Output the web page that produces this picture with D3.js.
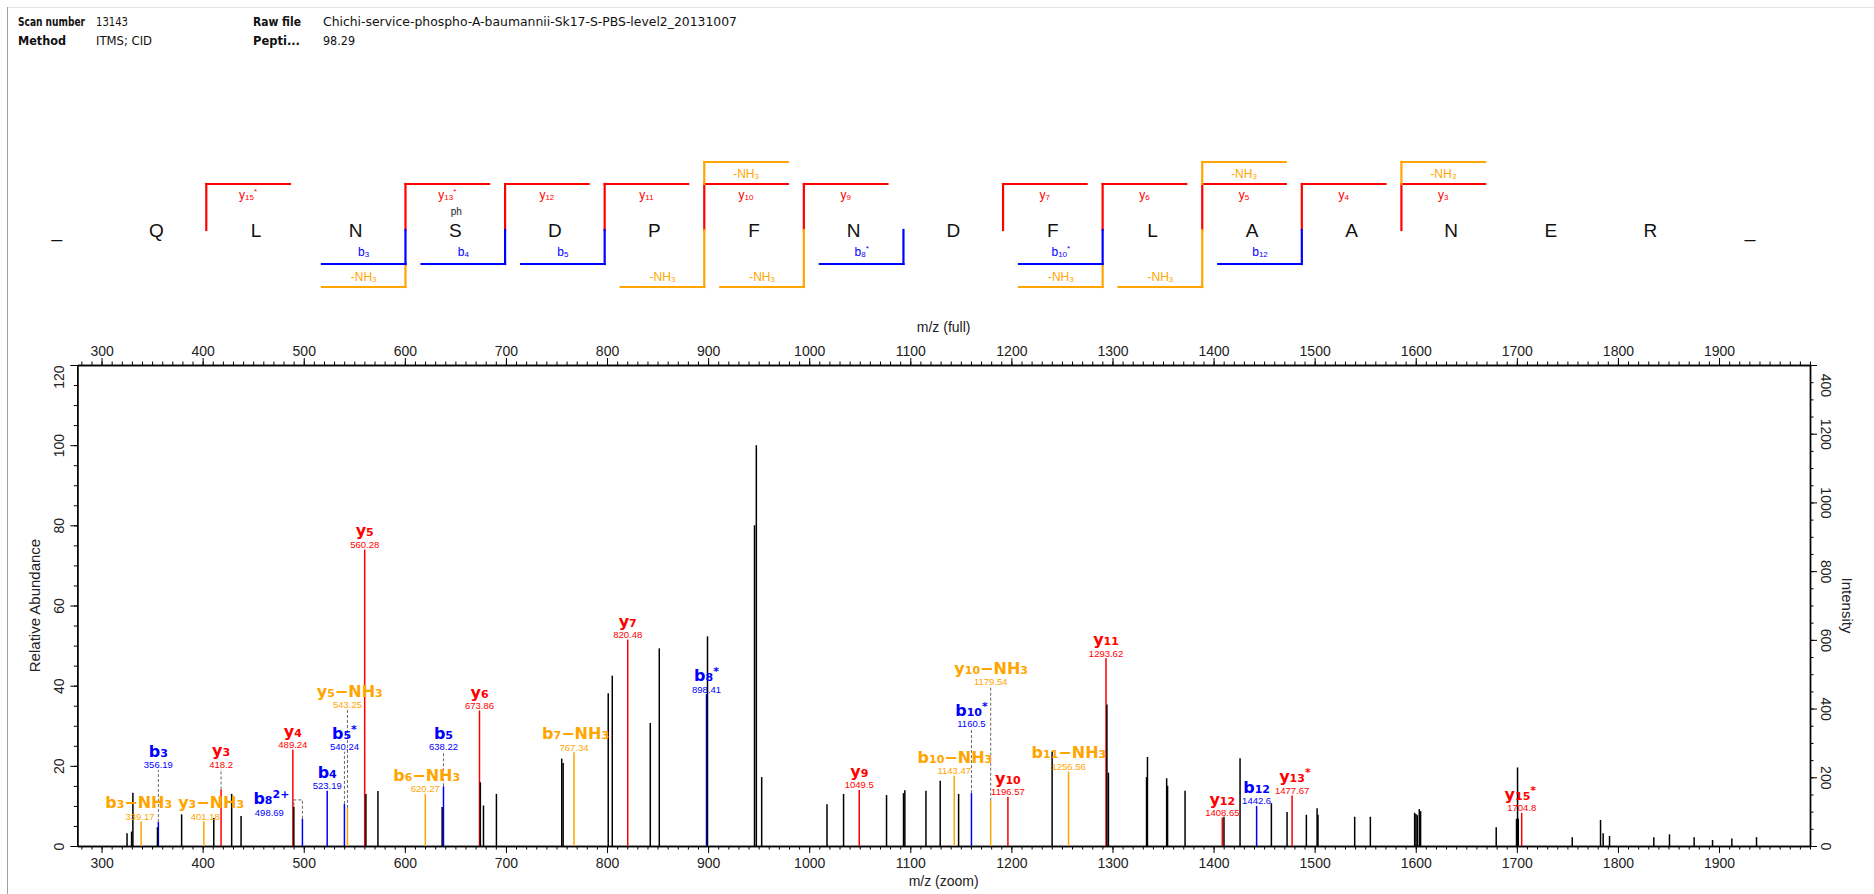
<!DOCTYPE html>
<html><head><meta charset="utf-8">
<script src="https://cdn.jsdelivr.net/npm/d3@7"></script>
<style>
html,body{margin:0;padding:0;background:#fff;}
svg{display:block;}
</style></head><body>
<svg id="c" width="1874" height="894"></svg>
<script>
// ---------------- data ----------------
const headerRow1 = ["Scan number", "13143", "Raw file", "Chichi-service-phospho-A-baumannii-Sk17-S-PBS-level2_20131007"];
const headerRow2 = ["Method", "ITMS; CID", "Pepti...", "98.29"];

const residues = ["_","Q","L","N","S","D","P","F","N","D","F","L","A","A","N","E","R","_"];
const modResidueIndex = 4;
const modLabel = "ph";
const yIonNumbers = [15,13,12,11,10,9,7,6,5,4,3];
const yIonStarred = [15,13];
const yNH3Numbers = [10,5,3];
const bIonNumbers = [3,4,5,8,10,12];
const bIonStarred = [8,10];
const bNH3Numbers = [3,6,7,10,11];

// unannotated (black) peaks: m/z and relative abundance
const peakMz  = [325.2,329.7,331.0,355.3,379.2,411.0,428.7,438.0,490.2,561.5,573.4,636.9,674.7,677.8,690.6,755.2,756.6,801.2,805.2,842.8,851.7,899.4,945.9,947.7,953.0,1017.6,1034.0,1076.5,1093.3,1094.6,1115.5,1129.6,1147.8,1240.3,1294.5,1296.0,1333.7,1334.6,1353.6,1354.5,1371.8,1410.3,1426.2,1457.2,1472.7,1491.8,1502.4,1503.3,1539.6,1555.1,1598.9,1600.2,1601.5,1603.5,1604.8,1679.6,1699.7,1700.7,1701.4,1754.8,1782.8,1785.4,1791.7,1835.5,1851.0,1875.4,1893.6,1912.7,1937.1];
const peakRel = [3.2,3.6,13.3,4.7,7.9,7.0,13.0,7.5,9.8,13.0,13.7,9.7,15.9,10.1,13.0,21.8,20.7,38.1,42.5,30.7,49.3,52.3,80.0,100,17.2,10.4,13.0,12.7,13.2,13.9,13.8,16.3,13.0,23.6,35.3,18.3,17.2,22.2,16.9,15.0,13.8,7.3,21.9,10.7,8.5,7.8,9.4,7.8,7.3,7.3,8.3,8.0,7.7,9.2,8.7,4.7,6.8,19.6,6.8,2.2,6.5,3.2,2.5,2.2,2.9,2.2,1.5,1.9,2.2];

// annotated ions
const ionNames    = ["b3-NH3","b3","y3-NH3","y3","y4","b8^2+","b4","b5*","y5-NH3","y5","b6-NH3","b5","y6","b7-NH3","y7","b8*","y9","b10-NH3","b10*","y10-NH3","y10","b11-NH3","y11","y12","b12","y13*","y15*"];
const ionMz       = [339.17,356.19,401.18,418.2,489.24,498.69,523.19,540.24,543.25,560.28,620.27,638.22,673.86,767.34,820.48,898.41,1049.5,1143.47,1160.5,1179.54,1196.57,1256.56,1293.62,1408.65,1442.6,1477.67,1704.8];
const ionRel      = [6.2,6.0,6.2,14.1,24.0,6.8,13.8,10.5,9.5,74.0,13.0,14.9,33.8,23.4,51.5,37.9,14.0,17.5,13.2,11.3,12.3,18.6,46.9,7.1,10.0,12.6,8.3];
const ionLabelRel = [6.2,19.0,6.2,19.2,24.0,7.2,13.8,23.5,34.0,74.0,13.0,23.5,33.8,23.4,51.5,37.9,14.0,17.5,29.3,39.7,12.3,18.6,46.9,7.1,10.0,12.6,8.3];
const ionNameMz   = [336.7,356.19,408.4,418.2,489.24,468.0,523.19,540.24,545.5,560.28,621.6,638.22,673.86,768.9,820.48,898.41,1049.5,1144.1,1160.5,1180.0,1196.57,1256.9,1293.62,1408.65,1442.6,1480.5,1703.5];
const ionValueMz  = [338.0,356.19,402.6,418.2,489.24,466.0,523.19,540.24,543.25,560.28,620.27,638.22,673.86,767.34,820.48,898.41,1049.5,1143.47,1160.5,1179.54,1196.57,1256.56,1293.62,1408.65,1442.6,1477.67,1704.8];
// bent dashed connector for the b8 2+ label (m/z, rel)
const b82Connector = [[498.69,6.8],[498.69,11.5],[490.2,11.5],[490.2,9.8]];

const mzDomain = [276, 1990];
const mzMajorTicks = d3.range(300, 2000, 100);
const mzMinorTicks = d3.range(280, 1991, 10);
const relDomain = [0, 120];
const relMajorTicks = d3.range(0, 121, 20);
const relMinorTicks = d3.range(0, 121, 5);
const intDomain = [0, 1400];
const intMajorTicks = d3.range(0, 1401, 200);
const intMinorTicks = d3.range(0, 1401, 50);

// ---------------- drawing ----------------
const RED = "#ff0000", BLUE = "#0000ff", ORANGE = "#ffa500";
const colorOf = n => n.includes("NH3") ? ORANGE : (n[0] === "y" ? RED : BLUE);
const svg = d3.select("#c");
const SANS = "'Liberation Sans', Arial, sans-serif";
const HEAD = "'DejaVu Sans', sans-serif";
const HEADC = "'DejaVu Sans Condensed', 'DejaVu Sans', sans-serif";

// page frame lines
svg.append("line").attr("x1", 8).attr("x2", 1874).attr("y1", 7.5).attr("y2", 7.5).attr("stroke", "#e4e4e4");
svg.append("line").attr("x1", 7.5).attr("x2", 7.5).attr("y1", 7).attr("y2", 894).attr("stroke", "#a0a0a0");

const headX = [18, 96, 253, 323];
const headW = [[67, 32, 48, 414], [48, 56, 47, 32]];
[headerRow1, headerRow2].forEach((row, r) => {
  row.forEach((t, i) => {
    const bold = i % 2 === 0;
    svg.append("text").attr("x", headX[i]).attr("y", 25.5 + r * 19)
      .attr("font-family", bold ? HEADC : HEAD).attr("font-size", bold ? 11.5 : 12)
      .attr("font-weight", bold ? "bold" : "normal")
      .attr("textLength", headW[r][i]).attr("lengthAdjust", "spacingAndGlyphs")
      .attr("fill", "#111").text(t);
  });
});

// ---- sequence panel ----
const seqX = d3.scalePoint().domain(d3.range(residues.length)).range([56.9, 1750]);
const step = seqX.step();
const armLen = step - 16;
const Y_TOPNH3 = 162, Y_RED = 184, Y_MID = 230, Y_BLUE = 264, Y_BOTNH3 = 287;
const seqG = svg.append("g");
residues.forEach((r, i) => {
  seqG.append("text").attr("x", seqX(i)).attr("y", 237).attr("text-anchor", "middle")
    .attr("font-family", SANS).attr("font-size", 19).attr("fill", "#111").text(r);
});
seqG.append("text").attr("x", seqX(modResidueIndex) + 1).attr("y", 215).attr("text-anchor", "middle")
  .attr("font-family", SANS).attr("font-size", 10).attr("fill", "#222").text(modLabel);

const boundaryX = k => (seqX(k) + seqX(k + 1)) / 2; // boundary after residue k
function seqLabel(x, y, letter, num, star, color) {
  const t = seqG.append("text").attr("x", x).attr("y", y).attr("text-anchor", "middle")
    .attr("font-family", SANS).attr("font-size", 12).attr("fill", color);
  t.append("tspan").text(letter);
  t.append("tspan").attr("font-size", 8).attr("dy", 1).text(num);
  if (star) t.append("tspan").attr("font-size", 8).attr("dy", -6).text("*");
}
function nh3Label(x, y) {
  const t = seqG.append("text").attr("x", x).attr("y", y).attr("text-anchor", "middle")
    .attr("font-family", SANS).attr("font-size", 12).attr("fill", ORANGE);
  t.append("tspan").text("-NH");
  t.append("tspan").attr("font-size", 8).attr("dy", 1).text("3");
}
const seg = (x1, y1, x2, y2, c) => seqG.append("line").attr("x1", x1).attr("y1", y1).attr("x2", x2).attr("y2", y2)
  .attr("stroke", c).attr("stroke-width", 2.2).attr("stroke-linecap", "square");

yIonNumbers.forEach(n => {
  const bx = boundaryX(16 - n);
  seg(bx, Y_MID, bx, Y_RED, RED);
  seg(bx, Y_RED, bx + armLen, Y_RED, RED);
  seqLabel(bx + armLen / 2, 199, "y", n, yIonStarred.includes(n), RED);
  if (yNH3Numbers.includes(n)) {
    seg(bx, Y_RED, bx, Y_TOPNH3, ORANGE);
    seg(bx, Y_TOPNH3, bx + armLen, Y_TOPNH3, ORANGE);
    nh3Label(bx + armLen / 2, 177.5);
  }
});
bNH3Numbers.forEach(n => {
  const bx = boundaryX(n);
  const from = bIonNumbers.includes(n) ? Y_BLUE : Y_MID;
  seg(bx, from, bx, Y_BOTNH3, ORANGE);
  seg(bx - armLen, Y_BOTNH3, bx, Y_BOTNH3, ORANGE);
  nh3Label(bx - armLen / 2, 280.5);
});
bIonNumbers.forEach(n => {
  const bx = boundaryX(n);
  seg(bx, Y_MID, bx, Y_BLUE, BLUE);
  seg(bx - armLen, Y_BLUE, bx, Y_BLUE, BLUE);
  seqLabel(bx - armLen / 2, 256, "b", n, bIonStarred.includes(n), BLUE);
});

// ---- spectrum ----
const L = 77.3, R = 1810, T = 365, B = 846;
const x = d3.scaleLinear().domain(mzDomain).range([L, R]);
const y = d3.scaleLinear().domain(relDomain).range([B, T]);
const yI = d3.scaleLinear().domain(intDomain).range([B, T]);
const fmt = d3.format("d");

function styleAxis(g) {
  g.select(".domain").attr("stroke", "#000").attr("stroke-width", 1.4);
  g.selectAll(".tick line").attr("stroke", "#000").attr("stroke-width", 1);
  g.selectAll("text").attr("font-family", SANS).attr("font-size", 14).attr("fill", "#222");
}
// minor ticks
svg.append("g").attr("transform", `translate(0,${B})`).call(d3.axisBottom(x).tickValues(mzMinorTicks).tickSize(3.5).tickFormat("").tickSizeOuter(0)).call(styleAxis);
svg.append("g").attr("transform", `translate(0,${T})`).call(d3.axisTop(x).tickValues(mzMinorTicks).tickSize(3.5).tickFormat("").tickSizeOuter(0)).call(styleAxis);
svg.append("g").attr("transform", `translate(${L},0)`).call(d3.axisLeft(y).tickValues(relMinorTicks).tickSize(3.5).tickFormat("").tickSizeOuter(0)).call(styleAxis);
svg.append("g").attr("transform", `translate(${R},0)`).call(d3.axisRight(yI).tickValues(intMinorTicks).tickSize(3.5).tickFormat("").tickSizeOuter(0)).call(styleAxis);
// major ticks
const gb = svg.append("g").attr("transform", `translate(0,${B})`).call(d3.axisBottom(x).tickValues(mzMajorTicks).tickFormat(fmt).tickSize(7).tickSizeOuter(0)).call(styleAxis);
gb.selectAll("text").attr("y", 16.7).attr("dy", "0.35em");
const gt = svg.append("g").attr("transform", `translate(0,${T})`).call(d3.axisTop(x).tickValues(mzMajorTicks).tickFormat(fmt).tickSize(7).tickSizeOuter(0)).call(styleAxis);
gt.selectAll("text").attr("y", -14.3).attr("dy", "0.35em");
const gl = svg.append("g").attr("transform", `translate(${L},0)`).call(d3.axisLeft(y).tickValues(relMajorTicks).tickFormat(fmt).tickSize(7).tickSizeOuter(0)).call(styleAxis);
gl.selectAll(".tick text").each(function(d) {
  d3.select(this).attr("x", null).attr("dy", "0.35em")
    .attr("transform", "translate(-18,0) rotate(-90)")
    .attr("text-anchor", d === 120 ? "end" : "middle");
});
const gr = svg.append("g").attr("transform", `translate(${R},0)`)
  .call(d3.axisRight(yI).tickValues(intMajorTicks).tickFormat(fmt).tickSize(7).tickSizeOuter(0)).call(styleAxis);
gr.selectAll(".tick text").each(function(d) {
  d3.select(this).attr("x", null).attr("dy", "0.35em")
    .attr("transform", "translate(16,0) rotate(90)")
    .attr("text-anchor", "middle");
});
// the top label is drawn partly hidden (leading digit cut) as in the reference
gr.selectAll(".tick").filter(d => d === 1400).select("text").remove();
gr.append("clipPath").attr("id", "rclip2").append("rect").attr("x", 0).attr("y", T + 9).attr("width", 60).attr("height", 60);
gr.append("g").attr("clip-path", "url(#rclip2)").append("text")
  .attr("transform", `translate(16,${yI(1400) + 1}) rotate(90)`).attr("dy", "0.35em")
  .attr("text-anchor", "start").attr("font-family", SANS).attr("font-size", 14).attr("fill", "#222").text(fmt(1400));

// axis titles
svg.append("text").attr("x", (L + R) / 2).attr("y", 332).attr("text-anchor", "middle")
  .attr("font-family", SANS).attr("font-size", 14).attr("fill", "#222").text("m/z (full)");
svg.append("text").attr("x", (L + R) / 2).attr("y", 886).attr("text-anchor", "middle")
  .attr("font-family", SANS).attr("font-size", 14).attr("fill", "#222").text("m/z (zoom)");
svg.append("text").attr("transform", `translate(35,${(T + B) / 2}) rotate(-90)`).attr("dy", "0.35em")
  .attr("text-anchor", "middle").attr("font-family", SANS).attr("font-size", 15).attr("fill", "#222").text("Relative Abundance");
svg.append("text").attr("transform", `translate(1847,${(T + B) / 2}) rotate(90)`).attr("dy", "0.35em")
  .attr("text-anchor", "middle").attr("font-family", SANS).attr("font-size", 15).attr("fill", "#222").text("Intensity");

// annotated peaks (colored), then black peaks on top
const ions = ionNames.map((n, i) => ({ name: n, mz: ionMz[i], rel: ionRel[i], lab: ionLabelRel[i], nx: ionNameMz[i], vx: ionValueMz[i] }));
const pg = svg.append("g");
pg.selectAll("line.ion").data(ions).join("line").attr("class", "ion")
  .attr("x1", d => x(d.mz)).attr("x2", d => x(d.mz)).attr("y1", y(0)).attr("y2", d => y(d.rel))
  .attr("stroke", d => colorOf(d.name)).attr("stroke-width", 1.5);
const blacks = peakMz.map((m, i) => ({ mz: m, rel: peakRel[i] }));
pg.selectAll("line.pk").data(blacks).join("line").attr("class", "pk")
  .attr("x1", d => x(d.mz)).attr("x2", d => x(d.mz)).attr("y1", y(0)).attr("y2", d => y(d.rel))
  .attr("stroke", "#000").attr("stroke-width", 1.5);

// dashed connectors
const dash = svg.append("g").attr("fill", "none").attr("stroke", "#666").attr("stroke-width", 1).attr("stroke-dasharray", "3,2");
ions.filter(d => d.lab > d.rel + 1 && d.name !== "b8^2+").forEach(d => {
  dash.append("line").attr("x1", x(d.mz)).attr("x2", x(d.mz)).attr("y1", y(d.rel)).attr("y2", y(d.lab));
});
dash.append("path").attr("d", d3.line().x(p => x(p[0])).y(p => y(p[1]))(b82Connector));

// labels
const lg = svg.append("g");
ions.forEach(d => {
  const c = colorOf(d.name);
  const top = y(d.lab);
  lg.append("text").attr("x", x(d.vx)).attr("y", top - 1.5).attr("text-anchor", "middle")
    .attr("font-family", SANS).attr("font-size", 9.5).attr("fill", c).text(String(d.mz));
  const m = d.name.match(/^([by])(\d+)(\*|\^2\+)?(-NH3)?$/);
  const t = lg.append("text").attr("x", x(d.nx)).attr("y", top - 13).attr("text-anchor", "middle")
    .attr("font-family", "'DejaVu Sans', Verdana, sans-serif").attr("font-weight", "bold")
    .attr("font-size", 16).attr("fill", c);
  t.append("tspan").text(m[1]);
  t.append("tspan").attr("font-size", 11).text(m[2]);
  let raised = false;
  if (m[3]) {
    t.append("tspan").attr("font-size", 11).attr("dy", -6).text(m[3] === "*" ? "*" : "2+");
    raised = true;
  }
  if (m[4]) {
    t.append("tspan").attr("dy", raised ? 6 : 0).text("\u2212NH");
    t.append("tspan").attr("font-size", 11).text("3");
  }
});
</script>
</body></html>
